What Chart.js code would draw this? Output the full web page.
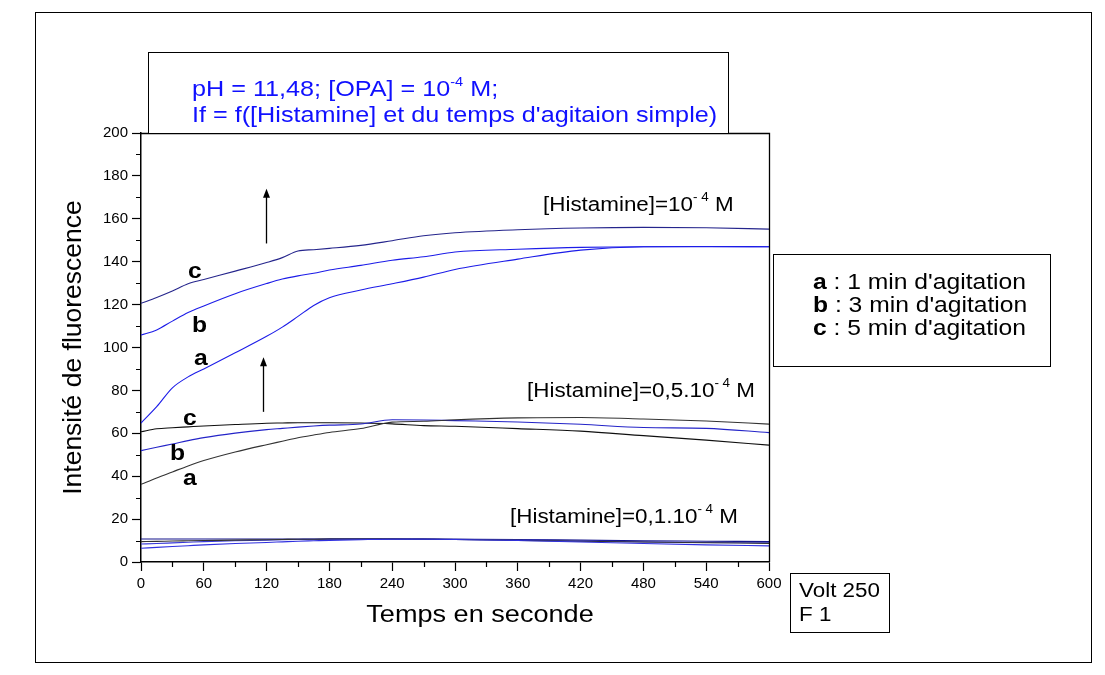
<!DOCTYPE html>
<html>
<head>
<meta charset="utf-8">
<script src="https://cdn.jsdelivr.net/npm/chart.js@4.4.1/dist/chart.umd.min.js"></script>
<style>
  body { margin: 0; background: #fff; }
  #grafico { display: block; }
</style>
</head>
<body>
<canvas id="grafico" width="1105" height="675"></canvas>
<script>
// temps (s)
const temps = [0, 15, 30, 45, 60, 90, 120, 135, 150, 165, 180, 210, 240, 270, 300, 360, 420, 480, 540, 600];

// [Histamine] = 10^-4 M
const hist10A = [64.8, 72.4, 81.2, 86.3, 90.0, 97.5, 105.2, 109.5, 114.5, 119.6, 123.2, 126.8, 129.7, 132.8, 136.4, 141.2, 145.4, 147.0, 147.1, 147.0];
const hist10B = [105.8, 108.2, 112.3, 116.3, 119.4, 125.1, 129.8, 131.9, 133.4, 134.6, 136.1, 138.3, 140.7, 142.3, 144.5, 145.8, 146.7, 147.0, 147.0, 147.0];
const hist10C = [120.6, 123.3, 126.3, 129.7, 131.7, 135.6, 139.6, 141.9, 145.0, 145.6, 146.2, 147.6, 149.8, 152.1, 153.5, 154.9, 155.7, 156.0, 155.8, 155.2];

// [Histamine] = 0,5.10^-4 M
const hist05A = [36.2, 39.2, 42.0, 44.8, 47.3, 51.3, 54.7, 56.3, 57.9, 59.2, 60.4, 62.2, 65.2, 65.6, 66.3, 67.2, 67.4, 66.7, 65.7, 64.3];
const hist05B = [51.9, 53.5, 55.0, 56.6, 58.0, 60.1, 61.7, 62.3, 62.9, 63.4, 63.8, 64.3, 66.3, 66.2, 65.9, 65.3, 64.2, 62.7, 62.3, 60.3];
const hist05C = [60.7, 62.1, 62.6, 63.0, 63.4, 64.1, 64.7, 64.8, 64.9, 64.9, 64.9, 64.8, 64.4, 63.6, 63.3, 62.2, 61.0, 58.9, 56.8, 54.5];

// [Histamine] = 0,1.10^-4 M
const hist01A = [6.4, 6.8, 7.2, 7.6, 8.0, 8.6, 9.1, 9.4, 9.7, 9.9, 10.1, 10.4, 10.6, 10.6, 10.5, 10.0, 9.3, 8.6, 8.0, 7.5];
const hist01B = [9.5, 9.6, 9.8, 9.9, 10.0, 10.2, 10.4, 10.5, 10.6, 10.6, 10.7, 10.7, 10.7, 10.6, 10.5, 10.1, 9.7, 9.3, 9.0, 8.7];
const hist01B2 = [8.4, 8.6, 8.9, 9.2, 9.5, 9.9, 10.2, 10.4, 10.5, 10.6, 10.6, 10.7, 10.7, 10.6, 10.5, 10.2, 9.8, 9.4, 9.1, 8.9];
const hist01C = [10.7, 10.7, 10.7, 10.7, 10.7, 10.7, 10.7, 10.7, 10.7, 10.7, 10.8, 10.8, 10.8, 10.8, 10.7, 10.5, 10.2, 9.9, 9.7, 9.5];

const ticksX = [0, 60, 120, 180, 240, 300, 360, 420, 480, 540, 600];
const ticksY = [0, 20, 40, 60, 80, 100, 120, 140, 160, 180, 200];

const FONT = '"Liberation Sans", Arial, sans-serif';
const SX = 1.12; // le texte de l'original est un peu étiré en largeur
Chart.defaults.font.family = FONT;
Chart.defaults.color = '#000';

function serie(label, vals, cor) {
    return {
        label: label,
        data: temps.map((t, i) => ({ x: t, y: vals[i] })),
        borderColor: cor,
        borderWidth: 1.1,
        pointRadius: 0,
        fill: false,
        cubicInterpolationMode: 'monotone'
    };
}

// texte avec morceaux (exposants)
function texte(ctx, morceaux, x, y, cor) {
    ctx.save();
    ctx.fillStyle = cor || '#000';
    ctx.textBaseline = 'alphabetic';
    ctx.textAlign = 'left';
    let cx = x;
    for (const m of morceaux) {
        ctx.font = (m.bold ? 'bold ' : '') + m.size + 'px ' + FONT;
        ctx.save();
        ctx.translate(cx, y + (m.dy || 0));
        ctx.scale(SX, 1);
        ctx.fillText(m.t, 0, 0);
        ctx.restore();
        cx += ctx.measureText(m.t).width * SX;
    }
    ctx.restore();
}

function cadre(ctx, x, y, w, h) {
    ctx.strokeRect(x + 0.5, y + 0.5, w, h);
}

const annotations = {
    id: 'annotations',
    afterDraw(chart) {
        const ctx = chart.ctx;
        const a = chart.chartArea;
        const sx = chart.scales.x, sy = chart.scales.y;
        ctx.save();
        ctx.strokeStyle = '#000';
        ctx.lineWidth = 1;

        // bord haut et droit du graphe
        ctx.beginPath();
        ctx.moveTo(a.left, a.top + 0.5);
        ctx.lineTo(a.right + 0.5, a.top + 0.5);
        ctx.lineTo(a.right + 0.5, a.bottom);
        ctx.lineWidth = 1.3;
        ctx.stroke();

        // petites graduations
        ctx.lineWidth = 1.2;
        ctx.beginPath();
        for (let t = 30; t < 600; t += 60) {
            const px = Math.round(sx.getPixelForValue(t)) + 0.5;
            ctx.moveTo(px, a.bottom);
            ctx.lineTo(px, a.bottom + 5);
        }
        for (let v = 10; v < 200; v += 20) {
            const py = Math.round(sy.getPixelForValue(v)) + 0.5;
            ctx.moveTo(a.left, py);
            ctx.lineTo(a.left - 5, py);
        }
        ctx.stroke();

        // cadre extérieur
        ctx.lineWidth = 1;
        cadre(ctx, 35, 12, 1056, 650);

        // boîte du titre
        ctx.fillStyle = '#fff';
        ctx.fillRect(149, 53, 579, 80);
        cadre(ctx, 148, 52, 580, 81);
        const bleu = '#1010ff';
        texte(ctx, [{ t: 'pH = 11,48; [OPA] = 10', size: 22.5 }, { t: '-4', size: 13, dy: -10 }, { t: ' M;', size: 22.5 }], 192, 96, bleu);
        texte(ctx, [{ t: "If = f([Histamine] et du temps d'agitaion simple)", size: 22.5 }], 192, 122, bleu);

        // légende a, b, c
        cadre(ctx, 773, 254, 277, 112);
        const leg = [['a', ' : 1 min d\'agitation'], ['b', ' : 3 min d\'agitation'], ['c', ' : 5 min d\'agitation']];
        leg.forEach((l, i) => {
            texte(ctx, [{ t: l[0], size: 22, bold: true }, { t: l[1], size: 22 }], 813, 289 + i * 23);
        });

        // boîte Volt
        cadre(ctx, 790, 573, 99, 59);
        texte(ctx, [{ t: 'Volt 250', size: 20 }], 799, 597);
        texte(ctx, [{ t: 'F 1', size: 20 }], 799, 621);

        // titre de l'axe x
        ctx.save();
        ctx.font = '24.2px ' + FONT;
        const wT = ctx.measureText('Temps en seconde').width * SX;
        ctx.restore();
        texte(ctx, [{ t: 'Temps en seconde', size: 24.2 }], 480 - wT / 2, 622);

        // étiquettes des concentrations
        const sup = [{ t: '- 4', size: 12, dy: -10 }, { t: ' M', size: 20 }];
        texte(ctx, [{ t: '[Histamine]=10', size: 20 }].concat(sup), 543, 211);
        texte(ctx, [{ t: '[Histamine]=0,5.10', size: 20 }].concat(sup), 527, 397);
        texte(ctx, [{ t: '[Histamine]=0,1.10', size: 20 }].concat(sup), 510, 523);

        // lettres des courbes
        const lettres = [['c', 188, 278], ['b', 192, 332], ['a', 194, 365], ['c', 183, 425], ['b', 170, 460], ['a', 183, 485]];
        lettres.forEach(l => texte(ctx, [{ t: l[0], size: 22, bold: true }], l[1], l[2]));

        // flèches
        const fleches = [{ t: 119, de: 148.5, a: 174 }, { t: 117, de: 70, a: 95.5 }];
        ctx.fillStyle = '#000';
        ctx.lineWidth = 1.3;
        fleches.forEach(f => {
            const px = Math.round(sx.getPixelForValue(f.t)) + 0.5;
            const y0 = sy.getPixelForValue(f.de), y1 = sy.getPixelForValue(f.a);
            ctx.beginPath();
            ctx.moveTo(px, y0);
            ctx.lineTo(px, y1 + 6);
            ctx.stroke();
            ctx.beginPath();
            ctx.moveTo(px, y1);
            ctx.lineTo(px - 3.5, y1 + 9);
            ctx.lineTo(px + 3.5, y1 + 9);
            ctx.closePath();
            ctx.fill();
        });
        ctx.restore();
    }
};

const ctx = document.getElementById('grafico').getContext('2d');

const grafico = new Chart(ctx, {
    type: 'line',
    data: {
        datasets: [
            serie('a 10-4', hist10A, '#1c1ce8'),
            serie('b 10-4', hist10B, '#1c1ce8'),
            serie('c 10-4', hist10C, '#25258c'),
            serie('a 0,5', hist05A, '#333333'),
            serie('b 0,5', hist05B, '#2424c8'),
            serie('c 0,5', hist05C, '#101010'),
            serie('a 0,1', hist01A, '#3030e0'),
            serie('b 0,1', hist01B, '#333333'),
            serie('b2 0,1', hist01B2, '#3a3ad8'),
            serie('c 0,1', hist01C, '#14148c')
        ]
    },
    options: {
        responsive: false,
        animation: false,
        devicePixelRatio: 1,
        layout: { padding: { left: 0, top: 133, right: 336, bottom: 0 } },
        plugins: {
            legend: { display: false },
            title: { display: false },
            tooltip: { enabled: false }
        },
        scales: {
            x: {
                type: 'linear',
                min: 0,
                max: 600,
                afterFit: s => { s.height = 113; },
                afterBuildTicks: s => { s.ticks = ticksX.map(v => ({ value: v })); },
                ticks: { font: { size: 15 }, color: '#000', padding: 4, maxRotation: 0 },
                grid: { drawOnChartArea: false, drawTicks: true, tickLength: 9, tickColor: '#000', tickWidth: 1.2 },
                border: { color: '#000', width: 1.5 }
            },
            y: {
                min: 0,
                max: 200,
                afterFit: s => { s.width = 141; },
                afterBuildTicks: s => { s.ticks = ticksY.map(v => ({ value: v })); },
                ticks: { font: { size: 15 }, color: '#000', padding: 4 },
                grid: { drawOnChartArea: false, drawTicks: true, tickLength: 9, tickColor: '#000', tickWidth: 1.2 },
                border: { color: '#000', width: 1.5 },
                title: {
                    display: true,
                    text: 'Intensité de fluorescence',
                    font: { size: 26.5 },
                    color: '#000',
                    padding: { top: 58, bottom: 0 }
                }
            }
        }
    },
    plugins: [annotations]
});
</script>
</body>
</html>
